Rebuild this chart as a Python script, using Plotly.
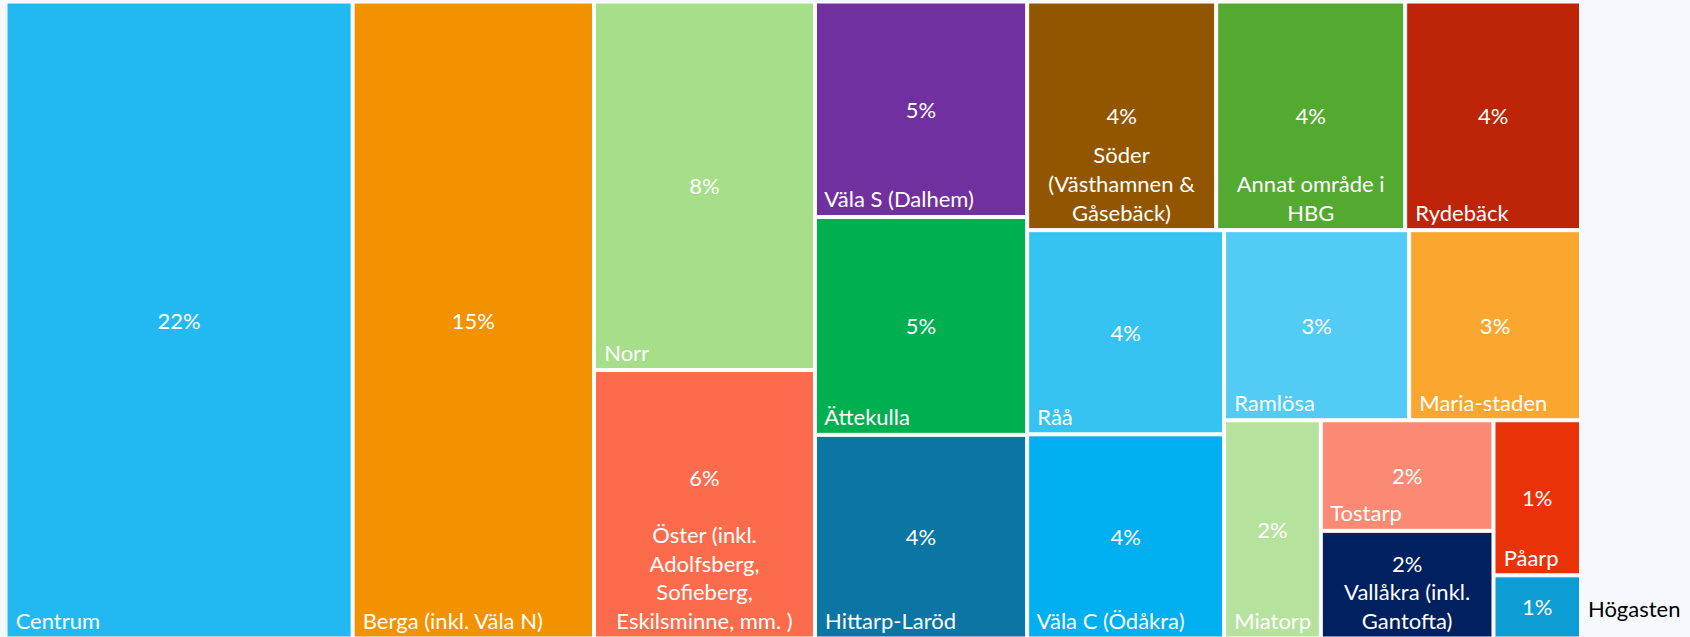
import plotly.graph_objects as go

# ---- data -------------------------------------------------------------
names = [
    "Centrum", "Berga (inkl. Väla N)", "Norr",
    "Öster (inkl. Adolfsberg, Sofieberg, Eskilsminne, mm. )",
    "Väla S (Dalhem)", "Ättekulla", "Hittarp-Laröd",
    "Söder (Västhamnen & Gåsebäck)", "Annat område i HBG", "Rydebäck",
    "Råå", "Väla C (Ödåkra)", "Ramlösa", "Maria-staden", "Miatorp",
    "Tostarp", "Vallåkra (inkl. Gantofta)", "Påarp", "Högasten",
]
# names as they are wrapped inside the tiles
name_lines = [
    "Centrum", "Berga (inkl. Väla N)", "Norr",
    "Öster (inkl.<br>Adolfsberg,<br>Sofieberg,<br>Eskilsminne, mm. )",
    "Väla S (Dalhem)", "Ättekulla", "Hittarp-Laröd",
    "Söder<br>(Västhamnen &<br>Gåsebäck)", "Annat område i<br>HBG", "Rydebäck",
    "Råå", "Väla C (Ödåkra)", "Ramlösa", "Maria-staden", "Miatorp",
    "Tostarp", "Vallåkra (inkl.<br>Gantofta)", "Påarp", "Högasten",
]
shares = [22.0, 15.3, 8.1, 5.9, 4.55, 4.6, 4.3, 4.3, 4.3, 4.0,
          4.0, 4.0, 3.5, 3.25, 2.1, 1.9, 1.85, 1.35, 0.55]
share_labels = ["22%", "15%", "8%", "6%", "5%", "5%", "4%", "4%", "4%", "4%",
                "4%", "4%", "3%", "3%", "2%", "2%", "2%", "1%", "1%"]
colors = ["#22B9F2", "#F39200", "#A6DE89", "#FB6B4C", "#7030A0", "#00B050",
          "#0B75A4", "#935600", "#54AA30", "#BE2408", "#37C3F2", "#00AFF0",
          "#52CBF5", "#FBA72F", "#B5E39E", "#FA8A73", "#002060", "#EA3208",
          "#0C9DD4"]

# Layout grouping of the Excel treemap (invisible row/column groups)
leaf_parent = ["root", "root", "g3", "g3", "g4", "g4", "g4",
               "rowA", "rowA", "rowA", "colB1", "colB1", "rowC", "rowC",
               "rowD", "colE", "colE", "colF", "colF"]
group_ids = ["root", "g3", "g4", "g5", "rowA", "rowB", "colB1", "colB2",
             "rowC", "rowD", "colE", "colF"]
group_parents = ["", "root", "root", "root", "g5", "g5", "rowB", "rowB",
                 "colB2", "colB2", "rowD", "rowD"]
outside_label = "Högasten"
# tiles whose percent is stacked above the name (value = blank lines between)
pct_with_name = {"Vallåkra (inkl. Gantofta)": 0,
                 "Öster (inkl. Adolfsberg, Sofieberg, Eskilsminne, mm. )": 1}

# ---- build ------------------------------------------------------------
ids = names + group_ids
parents = leaf_parent + group_parents
values = shares + [0] * len(group_ids)
ng = len(group_ids)

FONT = "Lato"
FS = 22
dom = dict(x=[7 / 1690, 1579.5 / 1690], y=[0, 634 / 637])


def layer(texts, fills, pos, line_w):
    return go.Treemap(
        ids=ids, labels=ids, parents=parents, values=values,
        branchvalues="remainder", sort=False,
        text=texts, texttemplate="%{text}", textposition=pos,
        textfont=dict(family=FONT, size=FS, color="white"),
        marker=dict(colors=fills, line=dict(color="white", width=line_w),
                    pad=dict(t=0, l=0, r=0, b=0), depthfade=False),
        tiling=dict(packing="slice-dice", pad=3),
        pathbar=dict(visible=False), domain=dom,
        hoverinfo="skip",
    )


single, multi, pct = [], [], []
for n, nl, p in zip(names, name_lines, share_labels):
    if n == outside_label:
        single.append(""); multi.append(""); pct.append(p)
    elif n in pct_with_name:
        gap = "<br>\u00a0" * pct_with_name[n]
        single.append(""); multi.append(p + gap + "<br>" + nl); pct.append("")
    elif "<br>" in nl:
        single.append(""); multi.append(nl); pct.append(p)
    else:
        single.append("\u00a0" + nl); multi.append(""); pct.append(p)

clear = ["rgba(0,0,0,0)"] * (len(names) + ng)

fig = go.Figure()
fig.add_trace(layer(single + [""] * ng, colors + ["white"] * ng, "bottom left", 1))
fig.add_trace(layer(pct + [""] * ng, clear, "middle center", 0))
fig.add_trace(layer(multi + [""] * ng, clear, "bottom center", 0))

fig.add_annotation(text=outside_label, xref="paper", yref="paper",
                   x=1586 / 1690, y=(637 - 608) / 637, xanchor="left",
                   yanchor="middle", showarrow=False,
                   font=dict(family=FONT, size=FS, color="black"))

fig.update_layout(
    width=1690, height=637, margin=dict(l=0, r=0, t=0, b=0),
    paper_bgcolor="#F5F9FD", plot_bgcolor="#F5F9FD",
    uniformtext=dict(minsize=FS, mode="show"),
    showlegend=False,
)
fig.write_html("out.html", config={"displayModeBar": False},
               post_script="document.body.style.margin='0';"
                           "document.body.style.overflow='hidden';")
